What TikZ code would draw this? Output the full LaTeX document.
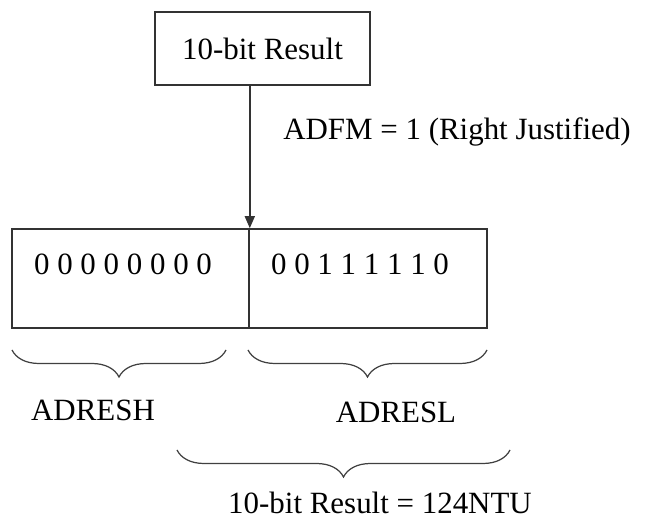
\documentclass[tikz,border=0pt]{standalone}
\usepackage{fontspec}
\setmainfont{Liberation Serif}
\usepackage{tikz}
\usetikzlibrary{arrows.meta,positioning,calc,decorations.pathreplacing}

\tikzset{
    regbox/.style={draw=black!80, line width=0.9pt, minimum height=1.98cm, inner sep=0pt},
    bitbrace/.style={draw=black!75, line width=0.7pt, decorate,
        decoration={brace, mirror, amplitude=0.54cm}},
}

\begin{document}
\begin{tikzpicture}[font=\fontsize{17.6}{21}\selectfont]
    \useasboundingbox (0,0) rectangle (13,10.46);

    \node[regbox, minimum width=4.3cm, minimum height=1.46cm] (result) at (5.25,9.49) {10-bit Result};

    \node[regbox, minimum width=4.74cm] (hreg) at (2.61,4.89) {};
    \node[regbox, minimum width=4.76cm] (lreg) at (7.36,4.89) {};

    \node at (2.46,5.18) {0 0 0 0 0 0 0 0};
    \node at (7.2,5.18) {0 0 1 1 1 1 1 0};

    \draw[black!80, line width=0.9pt, -{Triangle[length=0.24cm,width=0.2cm]}]
        (result.south -| hreg.north east) -- (hreg.north east);
    \node (adfm) at (9.14,7.82) {ADFM = 1 (Right Justified)};

    \coordinate (hb1) at (0.24,3.46);
    \coordinate (hb2) at (4.52,3.46);
    \coordinate (lb1) at (4.96,3.46);
    \coordinate (lb2) at (9.74,3.46);
    \coordinate (rb1) at (3.54,1.46);
    \coordinate (rb2) at (10.2,1.46);
    \draw[bitbrace] (hb1) -- (hb2);
    \draw[bitbrace] (lb1) -- (lb2);
    \draw[bitbrace] (rb1) -- (rb2);

    \node (adresh) at (1.86,2.26) {ADRESH};
    \node (adresl) at (7.92,2.22) {ADRESL};
    \node (total) at (7.6,0.4) {10-bit Result = 124NTU};
\end{tikzpicture}
\end{document}
